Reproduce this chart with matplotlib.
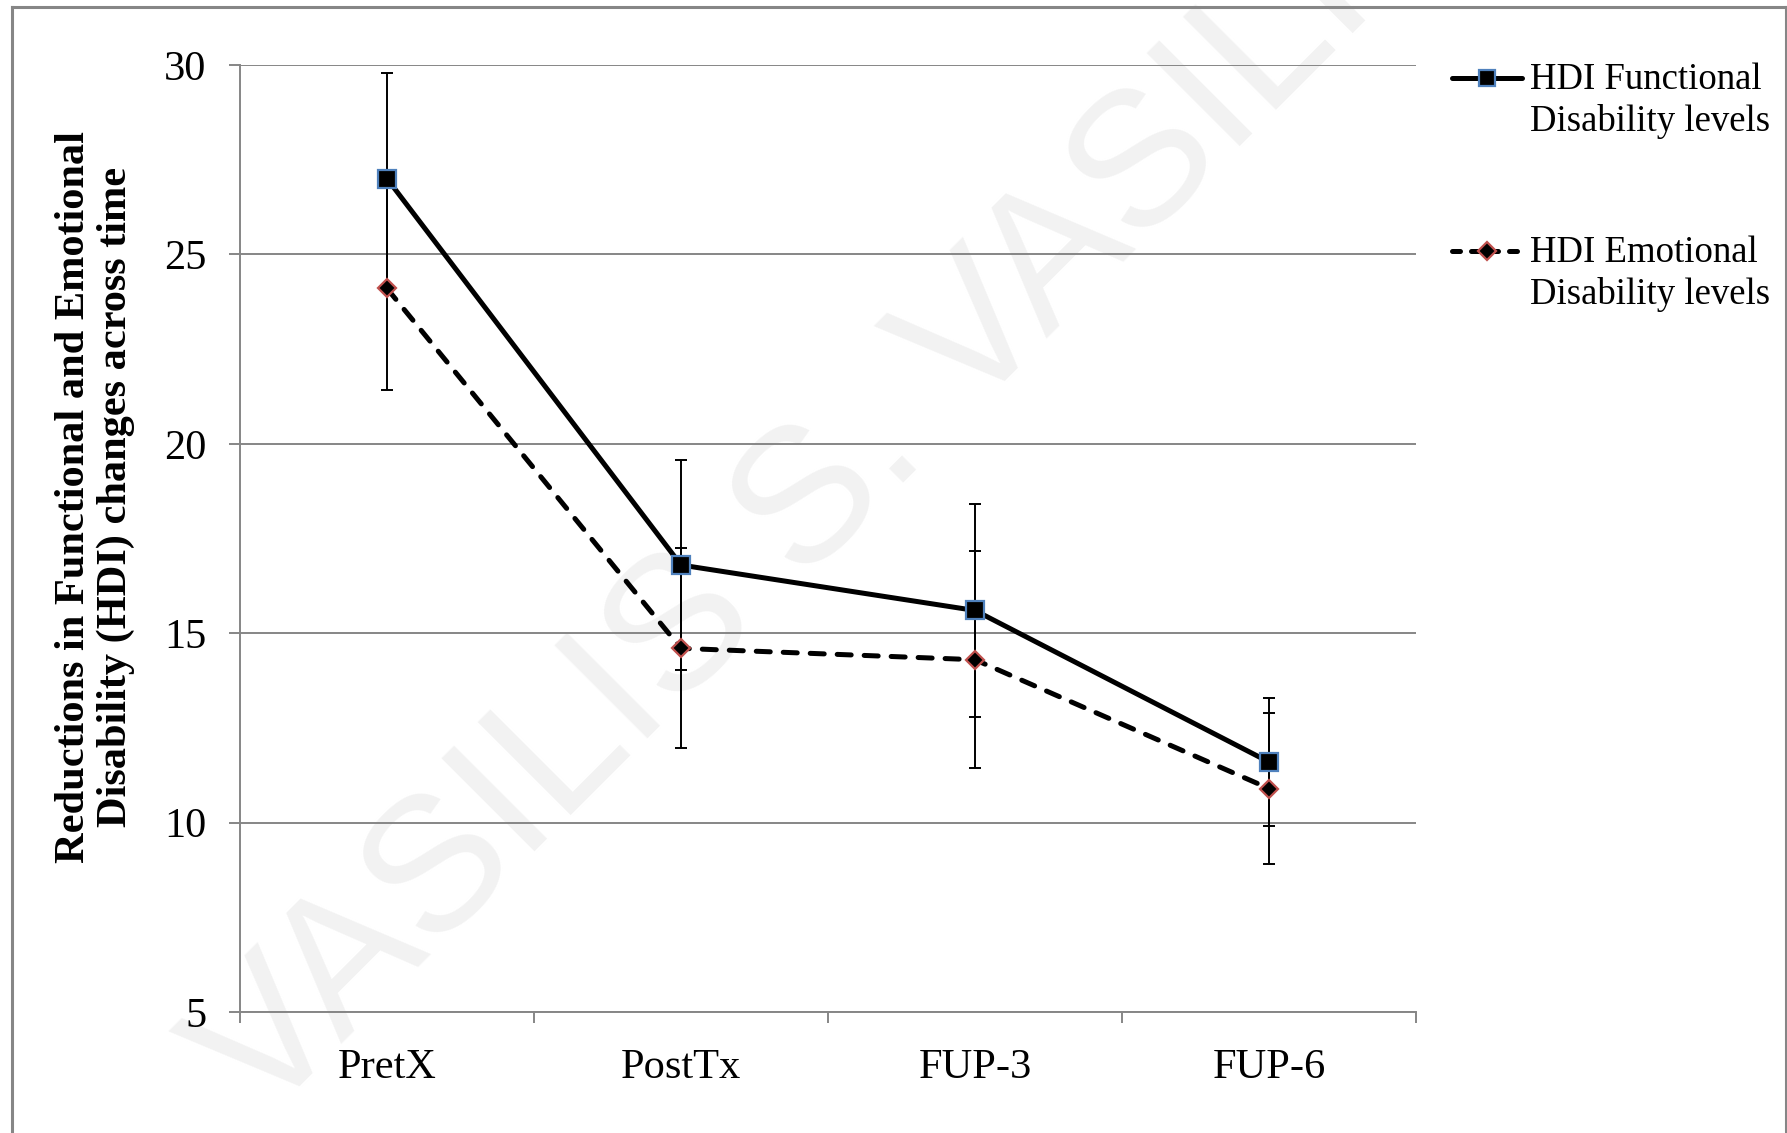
import numpy as np
import matplotlib.pyplot as plt
from matplotlib.lines import Line2D

# data
time_points = ['PretX', 'PostTx', 'FUP-3', 'FUP-6']
functional = [27.0, 16.8, 15.6, 11.6]
functional_err = [2.8, 2.76, 2.82, 1.7]
emotional = [24.1, 14.6, 14.3, 10.9]
emotional_err = [2.68, 2.64, 2.86, 2.0]

serif = 'Liberation Serif'
W, H = 1787, 1133
fig = plt.figure(figsize=(W / 100, H / 100), dpi=100)

# axes placed by pixel measurements of the original
ax = fig.add_axes([240 / W, 1 - 1012 / H, (1416 - 240) / W, (1012 - 65) / H])
ax.set_facecolor('none')

x = np.arange(len(time_points))
grid_col = '#868686'
lw = 3.6
dash = (2.8, 2.6)

ax.errorbar(x, functional, yerr=functional_err, fmt='none', ecolor='black',
            elinewidth=1.4, capsize=4.5, capthick=1.4, zorder=3)
ax.errorbar(x, emotional, yerr=emotional_err, fmt='none', ecolor='black',
            elinewidth=1.4, capsize=4.5, capthick=1.4, zorder=3)

ax.plot(x, functional, color='black', lw=lw, solid_capstyle='round',
        marker='s', ms=12.5, mfc='black', mec='#4f81bd', mew=1.6, zorder=4)
ax.plot(x, emotional, color='black', lw=lw, dashes=dash, dash_capstyle='round',
        marker='D', ms=9.5, mfc='black', mec='#c0504d', mew=1.6, zorder=4)

ax.set_xlim(-0.5, 3.5)
ax.set_ylim(5, 30)
ax.set_yticks([5, 10, 15, 20, 25, 30])
ax.set_xticks(np.arange(-0.5, 4, 1))
ax.set_xticklabels([])
ax.set_xticks(x, minor=True)
ax.set_xticklabels(time_points, minor=True, fontsize=30.5, family=serif)
ax.tick_params(axis='x', which='minor', length=0, pad=26)
ax.tick_params(axis='x', which='major', length=8, width=1.4, color=grid_col, direction='out')
ax.tick_params(axis='y', length=8, width=1.4, color=grid_col, direction='out',
               labelsize=30.5, pad=16)
for lab in ax.get_yticklabels():
    lab.set_family(serif)

ax.yaxis.grid(True, color=grid_col, lw=1.4)
ax.set_axisbelow(True)
for side in ['top', 'right']:
    ax.spines[side].set_visible(False)
for side in ['left', 'bottom']:
    ax.spines[side].set_color(grid_col)
    ax.spines[side].set_linewidth(1.4)

fig.text(95 / W, 1 - 497 / H,
         'Reductions in Functional and Emotional\nDisability (HDI) changes across time',
         rotation=90, ha='center', va='center', multialignment='center',
         fontsize=30.5, fontweight='bold', family=serif, linespacing=1.1)

# legend drawn by hand so the marker sits on the first text line
def fy(py):
    return 1 - py / H

fig.add_artist(Line2D([1452 / W, 1522 / W], [fy(78), fy(78)], color='black', lw=lw,
                      solid_capstyle='round'))
fig.add_artist(Line2D([1487 / W], [fy(78)], marker='s', ms=12, mfc='black',
                      mec='#4f81bd', mew=1.6))
fig.add_artist(Line2D([1452 / W, 1522 / W], [fy(251), fy(251)], color='black', lw=lw,
                      dashes=(1.6, 2.2), dash_capstyle='round'))
fig.add_artist(Line2D([1487 / W], [fy(251)], marker='D', ms=9, mfc='black',
                      mec='#c0504d', mew=1.6))
for txt, base in [('HDI Functional', 89), ('Disability levels', 131),
                  ('HDI Emotional', 262), ('Disability levels', 304)]:
    fig.text(1530 / W, fy(base), txt, fontsize=26.5, family=serif, va='baseline')

# watermark
fig.text(262 / W, fy(1125), 'VASILIS S. VASILIOU', rotation=45, rotation_mode='anchor',
         ha='left', va='baseline', fontsize=138, family='Liberation Sans',
         color='#f2f2f2', zorder=-1)

# page frame
for xs, ys in [([12, 12], [7, 1140]), ([12, 1786], [7, 7]), ([1786, 1786], [7, 1140])]:
    fig.add_artist(Line2D([v / W for v in xs], [fy(v) for v in ys], color='#868686', lw=2.2))

fig.savefig('out.png', dpi=100)
